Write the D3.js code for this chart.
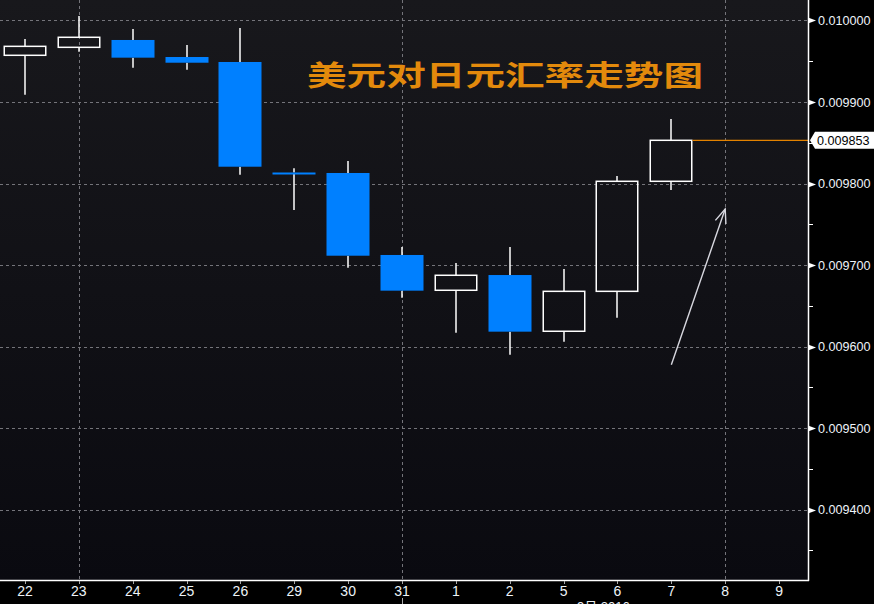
<!DOCTYPE html>
<html><head><meta charset="utf-8">
<script src="https://cdn.jsdelivr.net/npm/d3@7"></script>
<style>html,body{margin:0;padding:0;background:#000;overflow:hidden}</style>
</head><body>
<svg id="c" width="874" height="604"></svg>
<script>
const categories = ["22","23","24","25","26","29","30","31","1","2","5","6","7","8","9"];
const openV  = [0.0099573,0.0099671,0.0099761,0.0099552,0.0099491,0.0098135,0.0098129,0.0097123,0.0096690,0.0096877,0.0096187,0.0096677,0.0098027];
const highV  = [0.0099773,0.0100055,0.0099896,0.0099699,0.0099908,0.0098187,0.0098276,0.0097221,0.0097025,0.0097221,0.0096951,0.0098092,0.0098791];
const lowV   = [0.0099090,0.0099617,0.0099421,0.0099396,0.0098108,0.0097675,0.0096967,0.0096599,0.0096169,0.0095899,0.0096059,0.0096353,0.0097920];
const closeV = [0.0099683,0.0099794,0.0099544,0.0099482,0.0098206,0.0098123,0.0097114,0.0096685,0.0096874,0.0096182,0.0096677,0.0098027,0.0098530];
const yTicks = [0.0094,0.0095,0.0096,0.0097,0.0098,0.0099,0.0100];
const yMinorTicks = [0.00935,0.00945,0.00955,0.00965,0.00975,0.00985,0.00995];
const vGridCats = ["23","31","8"];
const lastPrice = 0.009853;
const titleText = "美元对日元汇率走势图";
const monthLabel = "9月 2016";
const arrowFrom = {cat:"7", v:0.0095776};
const arrowTo = {cat:"8", v:0.0097687};

const W = 874, H = 604, plotR = 808, plotB = 580;
const svg = d3.select("#c");
const defs = svg.append("defs");
const grad = defs.append("linearGradient").attr("id","bg").attr("x1",0).attr("y1",0).attr("x2",0).attr("y2",1);
grad.append("stop").attr("offset","0%").attr("stop-color","#18181c");
grad.append("stop").attr("offset","100%").attr("stop-color","#0a0a10");

svg.append("rect").attr("width",W).attr("height",H).attr("fill","#000");
svg.append("rect").attr("x",0).attr("y",0).attr("width",plotR).attr("height",plotB).attr("fill","url(#bg)");

const x = d3.scaleBand().domain(categories).range([-2, 806]).padding(0);
const cx = c => x(c) + x.bandwidth()/2;
const y = d3.scaleLinear().domain([0.0093135, 0.010025153]).range([plotB, 0]);

// grid
const g = svg.append("g");
g.selectAll("line.h").data(yTicks).join("line")
  .attr("x1",0).attr("x2",plotR).attr("y1",d=>Math.round(y(d))+0.5).attr("y2",d=>Math.round(y(d))+0.5)
  .attr("stroke","#74747a").attr("stroke-dasharray","3,3").attr("stroke-width",1);
g.selectAll("line.v").data(vGridCats).join("line")
  .attr("x1",d=>Math.round(cx(d))+0.5).attr("x2",d=>Math.round(cx(d))+0.5).attr("y1",0).attr("y2",plotB)
  .attr("stroke","#74747a").attr("stroke-dasharray","3,3").attr("stroke-width",1);

// candles
const data = openV.map((o,i)=>({c:categories[i],o,h:highV[i],l:lowV[i],cl:closeV[i]}));
const bw = 43;
const cg = svg.append("g");
data.forEach(d=>{
  const xc = Math.round(cx(d.c));
  const top = Math.max(d.o,d.cl), bot = Math.min(d.o,d.cl);
  const up = d.cl >= d.o;
  cg.append("line").attr("x1",xc).attr("x2",xc).attr("y1",y(d.h)).attr("y2",y(top)).attr("stroke","#fff").attr("stroke-width",1.5);
  cg.append("line").attr("x1",xc).attr("x2",xc).attr("y1",y(bot)).attr("y2",y(d.l)).attr("stroke","#fff").attr("stroke-width",1.5);
  const yt = y(top), hgt = Math.max(2, y(bot)-y(top));
  if (up) {
    cg.append("rect").attr("x",xc-bw/2+0.75).attr("y",yt).attr("width",bw-1.5).attr("height",hgt)
      .attr("fill","none").attr("stroke","#fff").attr("stroke-width",1.5);
  } else {
    cg.append("rect").attr("x",xc-bw/2).attr("y",yt).attr("width",bw).attr("height",hgt).attr("fill","#0080ff");
  }
});

// last price line
const lastCat = categories[data.length-1];
svg.append("line").attr("x1",Math.round(cx(lastCat))+bw/2).attr("x2",plotR).attr("y1",y(lastPrice)).attr("y2",y(lastPrice))
  .attr("stroke","#e38200").attr("stroke-width",1.2);

// arrow annotation
const ax1 = cx(arrowFrom.cat), ay1 = y(arrowFrom.v), ax2 = cx(arrowTo.cat), ay2 = y(arrowTo.v);
const ang = Math.atan2(ay2-ay1, ax2-ax1);
const ah = 15, spread = 0.38;
svg.append("line").attr("x1",ax1).attr("y1",ay1).attr("x2",ax2).attr("y2",ay2).attr("stroke","#d8d8e0").attr("stroke-width",1.4);
svg.append("path").attr("d",`M${ax2-ah*Math.cos(ang-spread)},${ay2-ah*Math.sin(ang-spread)}L${ax2},${ay2}L${ax2-ah*Math.cos(ang+spread)},${ay2-ah*Math.sin(ang+spread)}`)
  .attr("fill","none").attr("stroke","#d8d8e0").attr("stroke-width",1.4);

// axes lines
svg.append("line").attr("x1",plotR+0.5).attr("x2",plotR+0.5).attr("y1",0).attr("y2",plotB+1).attr("stroke","#fff").attr("stroke-width",1.5);
svg.append("line").attr("x1",0).attr("x2",plotR+1).attr("y1",plotB+0.5).attr("y2",plotB+0.5).attr("stroke","#fff").attr("stroke-width",1.5);

// y ticks
const yg = svg.append("g");
yg.selectAll("path.tk").data(yTicks).join("path")
  .attr("d",d=>{const yy=Math.round(y(d))+0.5;return `M${plotR},${yy-3}L${plotR+8},${yy}L${plotR},${yy+3}Z`;})
  .attr("fill","#fff");
yg.selectAll("line.mn").data(yMinorTicks).join("line")
  .attr("x1",plotR).attr("x2",plotR+5).attr("y1",d=>Math.round(y(d))+0.5).attr("y2",d=>Math.round(y(d))+0.5)
  .attr("stroke","#fff").attr("stroke-width",1);
yg.selectAll("text").data(yTicks).join("text")
  .attr("x",plotR+10).attr("y",d=>y(d)).attr("dy","0.36em")
  .attr("fill","#eef4f8").attr("font-family","'Liberation Sans', Arial, sans-serif").attr("font-size",12.6)
  .text(d=>d3.format(".6f")(d));

// last price label
const ly = y(lastPrice);
svg.append("path").attr("d",`M${plotR+2},${ly}L${plotR+7},${ly-8.5}L${W},${ly-8.5}L${W},${ly+8.5}L${plotR+7},${ly+8.5}Z`).attr("fill","#fff");
svg.append("text").attr("x",plotR+9).attr("y",ly).attr("dy","0.36em").attr("fill","#000")
  .attr("font-family","'Liberation Sans', Arial, sans-serif").attr("font-size",12.6).text(d3.format(".6f")(lastPrice));

// x ticks
const xg = svg.append("g");
xg.selectAll("line").data(categories).join("line")
  .attr("x1",d=>Math.round(cx(d))+0.5).attr("x2",d=>Math.round(cx(d))+0.5).attr("y1",plotB+1).attr("y2",plotB+4)
  .attr("stroke","#aaa").attr("stroke-width",1);
xg.selectAll("text").data(categories).join("text")
  .attr("x",d=>cx(d)).attr("y",596).attr("text-anchor","middle")
  .attr("fill","#eef4f8").attr("font-family","'Liberation Sans Narrow','Liberation Sans', Arial, sans-serif").attr("font-size",14)
  .text(d=>d);
svg.append("line").attr("x1",Math.round(cx("31"))+0.5).attr("x2",Math.round(cx("31"))+0.5).attr("y1",598).attr("y2",H)
  .attr("stroke","#aaa").attr("stroke-width",1);
svg.append("text").attr("x",577).attr("y",611).attr("fill","#eef4f8")
  .attr("font-family","'Liberation Sans', Arial, 'Noto Sans CJK SC', sans-serif").attr("font-size",13).text(monthLabel);

// title
svg.append("text").attr("x",307).attr("y",86).attr("fill","#e38a0c")
  .attr("font-family","'Noto Sans CJK SC', sans-serif").attr("font-weight",700).attr("font-size",28)
  .attr("textLength",396).attr("lengthAdjust","spacingAndGlyphs").text(titleText);
</script>
</body></html>
